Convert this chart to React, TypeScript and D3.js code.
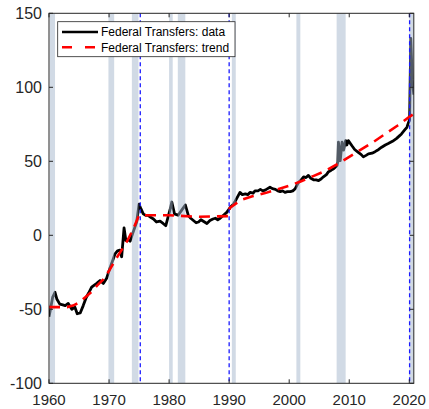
import React from "react";
import * as d3 from "d3";

const dataYears = [
  1960.0, 1960.25, 1960.6, 1961.0, 1961.3, 1961.8, 1962.3, 1962.7, 1963.2, 1963.8,
  1964.3, 1964.7, 1965.2, 1965.7, 1966.2, 1966.6, 1967.1, 1967.6, 1967.95, 1968.5,
  1969.05, 1969.6, 1970.2, 1970.7, 1971.0, 1971.4, 1971.8, 1972.1, 1972.5, 1972.8,
  1973.2, 1973.5, 1974.0, 1974.6, 1975.0, 1975.3, 1975.7, 1976.1, 1976.5, 1977.0,
  1977.4, 1977.9, 1978.5, 1979.0, 1979.45, 1979.8, 1980.2, 1980.45, 1980.9, 1981.5,
  1982.1, 1982.7, 1983.2, 1983.6, 1984.05, 1984.5, 1984.9, 1985.3, 1985.7, 1986.3,
  1986.8, 1987.3, 1987.7, 1988.1, 1988.5, 1989.05, 1989.6, 1990.2, 1990.7, 1991.0,
  1991.4, 1991.8, 1992.2, 1992.7, 1993.1, 1993.5, 1994.0, 1994.3, 1994.8, 1995.2,
  1995.6, 1996.0, 1996.4, 1996.8, 1997.2, 1997.7, 1998.1, 1998.5, 1998.9, 1999.3,
  1999.7, 2000.2, 2000.6, 2001.0, 2001.5, 2002.0, 2002.4, 2002.8, 2003.2, 2003.6,
  2004.05, 2004.5, 2004.9, 2005.3, 2005.7, 2006.2, 2006.55, 2007.0, 2007.4, 2007.95,
  2008.1, 2008.2, 2008.5, 2008.8, 2009.05, 2009.4, 2009.6, 2009.85, 2010.45, 2010.9,
  2011.5, 2012.0, 2012.35, 2012.8, 2013.2, 2013.8, 2014.3, 2014.9, 2015.4, 2016.0,
  2016.5, 2017.2, 2017.9, 2018.3, 2018.7, 2019.2, 2019.6, 2019.9, 2020.05, 2020.25,
  2020.5, 2020.75,
];
const dataValues = [
  -55, -50, -42, -38.5, -43, -46.5, -47, -47.5, -46, -50,
  -48.5, -53, -52.5, -47.5, -42, -39, -35, -33.5, -32.5, -30.5,
  -32.5, -29, -21.5, -16, -12.5, -10.5, -10, -14.5, 5, -3.5,
  -3, -4, 2, 9, 21, 18, 14.5, 13.5, 13.5, 12,
  11, 9, 9.5, 8, 6.5, 12, 18, 22.5, 14.5, 13.5,
  17, 20.5, 13.5, 11.5, 10, 8.5, 9, 10.5, 9.5, 8,
  10, 11, 11.5, 10.5, 11.5, 13.5, 15.5, 19, 21, 23,
  26, 29, 27.5, 28, 27.5, 29, 28.5, 30, 30, 31,
  30, 30.5, 31.5, 32.5, 31.5, 31, 30, 29.5, 30, 29,
  29.5, 29.5, 30, 31.5, 35.5, 37.5, 39.5, 39, 40.5, 38.5,
  37.5, 37.5, 37, 38, 39.5, 41, 43, 44, 45, 47,
  49.5, 63, 50.5, 63, 57.5, 64, 61, 64, 60.5, 58,
  56, 54.5, 53, 54, 55, 55.5, 56.5, 58, 59.5, 61,
  62, 63.5, 65.5, 67, 68.5, 71, 73, 76.5, 78, 133,
  105, 95,
];

const trendYears = [
  1960, 1961, 1962, 1963, 1964, 1965, 1966, 1967, 1968, 1969,
  1970, 1971, 1972, 1973, 1974, 1975, 1980, 1985, 1989.9, 1990.1,
  1992, 1994, 1996, 1998, 2000, 2002, 2004, 2006, 2008, 2010,
  2012, 2014, 2016, 2018, 2020, 2020.75,
];
const trendValues = [
  -48.5, -48.5, -48.5, -48.5, -47.5, -45.5, -42, -38.5, -34, -30,
  -24, -17, -10.5, -4, 4, 13.5, 13.5, 12.5, 13, 18.5,
  24, 26.5, 28.5, 31, 33.5, 36.5, 40, 43.5, 48, 53,
  58, 63, 68.5, 74, 80, 82,
];

const recessionStarts = [1960.15, 1969.9, 1973.8, 1980.0, 1981.45, 1990.45, 2001.2, 2007.9, 2020.0];
const recessionEnds = [1961.0, 1970.85, 1974.9, 1980.6, 1982.7, 1991.1, 2001.85, 2009.4, 2020.75];

const breakYears = [1975.2, 1990.0, 2020.05];

const xTicks = [1960, 1970, 1980, 1990, 2000, 2010, 2020];
const yTicks = [-100, -50, 0, 50, 100, 150];

const legendLabels = ["Federal Transfers: data", "Federal Transfers: trend"];

const W = 429;
const H = 409;
const LEFT = 49;
const RIGHT = 413.8;
const TOP = 13.3;
const BOTTOM = 383.3;
const AX = "#262626";
const FONT = "'Liberation Sans', Arial, Helvetica, sans-serif";

export default function App() {
  const x = d3.scaleLinear().domain([1960, 2020.75]).range([LEFT, RIGHT]);
  const y = d3.scaleLinear().domain([-100, 150]).range([BOTTOM, TOP]);

  const dataPts: [number, number][] = dataYears.map((yr, i) => [yr, dataValues[i]]);
  const trendPts: [number, number][] = trendYears.map((yr, i) => [yr, trendValues[i]]);
  const line = d3
    .line<[number, number]>()
    .x((d) => x(d[0]))
    .y((d) => y(d[1]));

  const tickLen = 4;

  return (
    <svg
      width={W}
      height={H}
      style={{ position: "absolute", left: 0, top: 0, background: "#fff" }}
      fontFamily={FONT}
    >
      <rect x={0} y={0} width={W} height={H} fill="#fff" />
      <defs>
        <clipPath id="plotclip">
          <rect x={LEFT} y={TOP} width={RIGHT - LEFT} height={BOTTOM - TOP} />
        </clipPath>
      </defs>
      <g clipPath="url(#plotclip)">
        <path d={line(dataPts) || ""} fill="none" stroke="#000" strokeWidth={2.8} strokeLinejoin="round" />
        {recessionStarts.map((s, i) => (
          <rect
            key={i}
            x={x(s)}
            y={TOP}
            width={x(recessionEnds[i]) - x(s)}
            height={BOTTOM - TOP}
            fill="#a3b5cc"
            fillOpacity={0.5}
          />
        ))}
        <path
          d={line(trendPts) || ""}
          fill="none"
          stroke="#ff0000"
          strokeWidth={2.6}
          strokeDasharray="11,7"
        />
        {breakYears.map((b, i) => (
          <line
            key={i}
            x1={x(b)}
            x2={x(b)}
            y1={TOP}
            y2={BOTTOM}
            stroke="#1a1aff"
            strokeWidth={1.3}
            strokeDasharray="4,3"
          />
        ))}
      </g>

      {/* axes box */}
      <rect x={LEFT} y={TOP} width={RIGHT - LEFT} height={BOTTOM - TOP} fill="none" stroke={AX} strokeWidth={1} />
      {xTicks.map((t) => (
        <g key={"x" + t}>
          <line x1={x(t)} x2={x(t)} y1={BOTTOM} y2={BOTTOM - tickLen} stroke={AX} />
          <line x1={x(t)} x2={x(t)} y1={TOP} y2={TOP + tickLen} stroke={AX} />
          <text x={x(t)} y={405} textAnchor="middle" fontSize={15} fill={AX}>
            {t}
          </text>
        </g>
      ))}
      {yTicks.map((t) => (
        <g key={"y" + t}>
          <line x1={LEFT} x2={LEFT + tickLen} y1={y(t)} y2={y(t)} stroke={AX} />
          <line x1={RIGHT} x2={RIGHT - tickLen} y1={y(t)} y2={y(t)} stroke={AX} />
          <text x={42} y={y(t)} dy="0.36em" textAnchor="end" fontSize={16} fill={AX}>
            {t}
          </text>
        </g>
      ))}

      {/* legend */}
      <g>
        <rect x={57.7} y={21.7} width={177.3} height={35} fill="#fff" stroke={AX} strokeWidth={0.8} />
        <line x1={62} x2={98} y1={32} y2={32} stroke="#000" strokeWidth={2.6} />
        <line x1={62} x2={98} y1={47.3} y2={47.3} stroke="#ff0000" strokeWidth={2.6} strokeDasharray="10,13" />
        <text x={101} y={32} dy="0.35em" fontSize={12} fill="#000">
          {legendLabels[0]}
        </text>
        <text x={101} y={47.3} dy="0.35em" fontSize={12} fill="#000">
          {legendLabels[1]}
        </text>
      </g>
    </svg>
  );
}
